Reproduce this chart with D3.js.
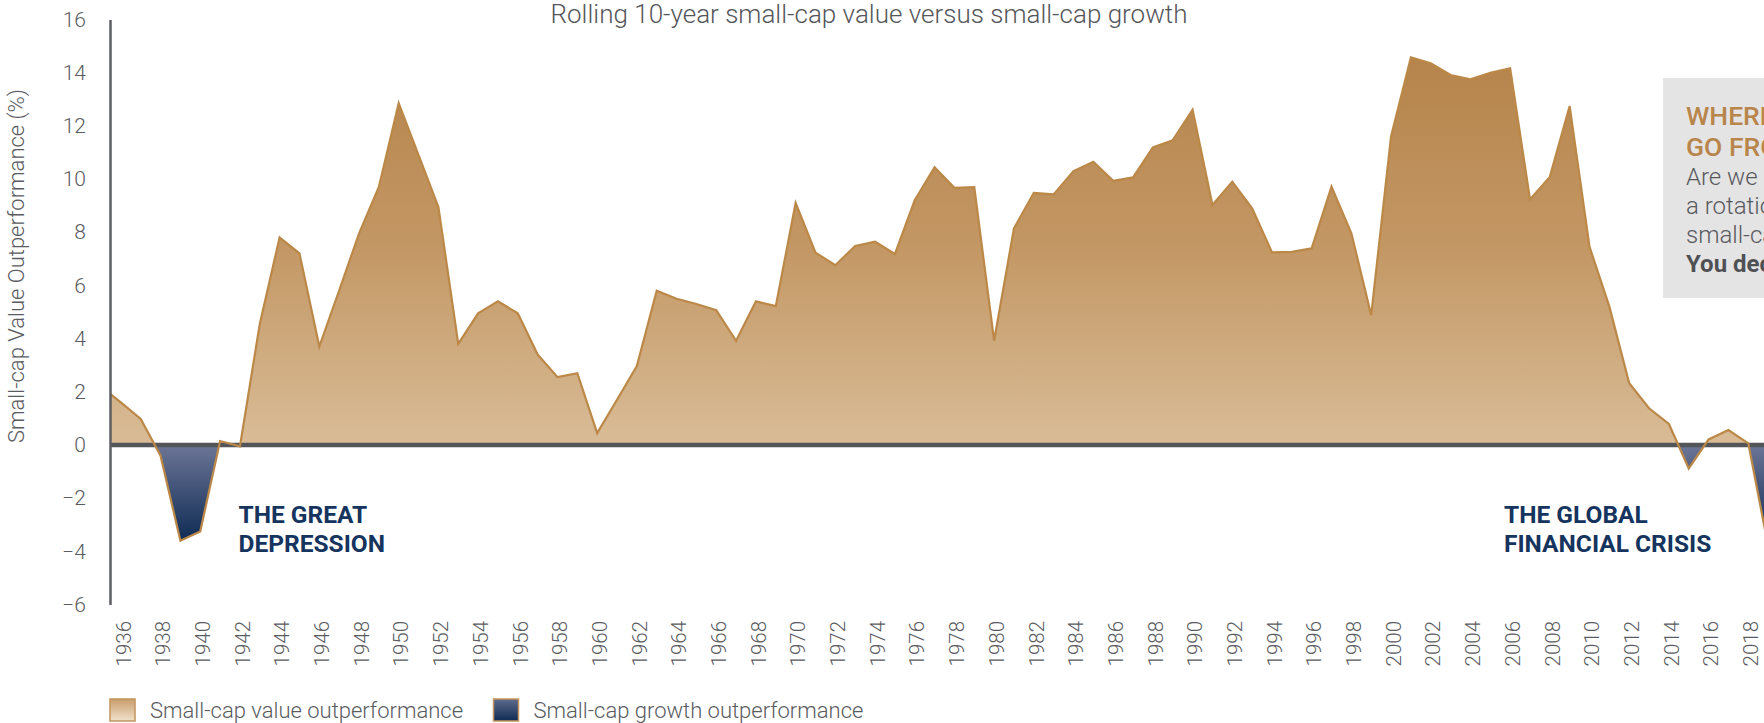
<!DOCTYPE html>
<html>
<head>
<meta charset="utf-8">
<script src="https://cdn.jsdelivr.net/npm/d3@7"></script>
<style>
  body { margin: 0; background: #fff; }
  svg { display: block; }
  text { font-family: Roboto, "Open Sans", sans-serif; }
</style>
</head>
<body>
<div id="chart"></div>
<script>

// Rolling 10-year small-cap value minus small-cap growth (%)
var years = [1935, 1936, 1937, 1938, 1939, 1940, 1941, 1942, 1943, 1944,
	1945, 1946, 1947, 1948, 1949, 1950, 1951, 1952, 1953, 1954,
	1955, 1956, 1957, 1958, 1959, 1960, 1961, 1962, 1963, 1964,
	1965, 1966, 1967, 1968, 1969, 1970, 1971, 1972, 1973, 1974,
	1975, 1976, 1977, 1978, 1979, 1980, 1981, 1982, 1983, 1984,
	1985, 1986, 1987, 1988, 1989, 1990, 1991, 1992, 1993, 1994,
	1995, 1996, 1997, 1998, 1999, 2000, 2001, 2002, 2003, 2004,
	2005, 2006, 2007, 2008, 2009, 2010, 2011, 2012, 2013, 2014,
	2015, 2016, 2017, 2018, 2019];

var outperformance = [2.2, 1.6, 0.98, -0.4, -3.6, -3.25, 0.15, -0.05, 4.55, 7.8,
	7.2, 3.7, 5.8, 7.95, 9.7, 12.85, 10.9, 8.95, 3.8, 4.95,
	5.4, 4.95, 3.4, 2.55, 2.7, 0.45, 1.7, 2.97, 5.8, 5.5,
	5.3, 5.07, 3.92, 5.4, 5.22, 9.1, 7.23, 6.76, 7.48, 7.64,
	7.18, 9.2, 10.44, 9.67, 9.69, 3.92, 8.14, 9.48, 9.42, 10.3,
	10.65, 9.93, 10.06, 11.19, 11.46, 12.6, 9.02, 9.9, 8.9, 7.24,
	7.26, 7.39, 9.71, 7.96, 4.88, 11.6, 14.57, 14.35, 13.91, 13.75,
	13.99, 14.16, 9.23, 10.08, 12.74, 7.45, 5.2, 2.32, 1.38, 0.79,
	-0.88, 0.21, 0.56, 0.06, -3.8];

var yTicks = [-6, -4, -2, 0, 2, 4, 6, 8, 10, 12, 14, 16];

var xLabels = [1936, 1938, 1940, 1942, 1944, 1946, 1948, 1950, 1952, 1954,
	1956, 1958, 1960, 1962, 1964, 1966, 1968, 1970, 1972, 1974,
	1976, 1978, 1980, 1982, 1984, 1986, 1988, 1990, 1992, 1994,
	1996, 1998, 2000, 2002, 2004, 2006, 2008, 2010, 2012, 2014,
	2016, 2018];

var legendLabels = ['Small-cap value outperformance', 'Small-cap growth outperformance'];

var title = 'Rolling 10-year small-cap value versus small-cap growth';
var yTitle = 'Small-cap Value Outperformance (%)';
var boxHead = ['WHERE DO WE', 'GO FROM HERE?'];
var boxBody = ['Are we due for', 'a rotation back to', 'small-cap value?'];
var boxBold = 'You decide.';


var width = 1764, height = 723;
var axisX = 110;

var svg = d3.select('#chart').append('svg')
	.attr('width', width)
	.attr('height', height);

var x = d3.scaleLinear().domain([1936, 2018]).range([120.85, 1748.3]);
var y = d3.scaleLinear().domain([-6, 16]).range([604.6, 19.4]);

var data = years.map((yr, i) => ({ year: yr, v: outperformance[i] }));


// Gradients and clips
var defs = svg.append('defs');

function addGradient(id, stops, attrs) {
	var g = defs.append('linearGradient').attr('id', id);
	Object.keys(attrs).forEach((k) => g.attr(k, attrs[k]));
	stops.forEach((s) => {
		g.append('stop').attr('offset', s[0]).attr('stop-color', s[1]);
	});
}

addGradient('gradValue', [[0, '#b5834a'], [0.5, '#c39764'], [1, '#d9bc97']],
	{ gradientUnits: 'userSpaceOnUse', x1: 0, x2: 0, y1: y(15), y2: y(0) });
addGradient('gradGrowth', [[0, '#6c7596'], [1, '#0f2b54']],
	{ gradientUnits: 'userSpaceOnUse', x1: 0, x2: 0, y1: y(0), y2: y(-3.6) });
addGradient('legValue', [[0, '#c89d6c'], [1, '#f1e2cc']],
	{ x1: 0, x2: 0, y1: 0, y2: 1 });
addGradient('legGrowth', [[0, '#5e6b8c'], [1, '#0f2b54']],
	{ x1: 0, x2: 0, y1: 0, y2: 1 });

defs.append('clipPath').attr('id', 'clipPos')
	.append('rect').attr('x', axisX).attr('y', 0)
	.attr('width', width - axisX).attr('height', y(0));

defs.append('clipPath').attr('id', 'clipNeg')
	.append('rect').attr('x', axisX).attr('y', y(0))
	.attr('width', width - axisX).attr('height', height - y(0));

defs.append('clipPath').attr('id', 'clipPlot')
	.append('rect').attr('x', axisX).attr('y', 0)
	.attr('width', width - axisX).attr('height', height);


// Areas
var area = d3.area()
	.x((d) => x(d.year))
	.y0(y(0))
	.y1((d) => y(d.v));

svg.append('path')
	.datum(data)
	.attr('d', area)
	.attr('fill', 'url(#gradValue)')
	.attr('clip-path', 'url(#clipPos)');

svg.append('path')
	.datum(data)
	.attr('d', area)
	.attr('fill', 'url(#gradGrowth)')
	.attr('clip-path', 'url(#clipNeg)');

// Zero line
svg.append('line')
	.attr('x1', axisX).attr('x2', width)
	.attr('y1', y(0)).attr('y2', y(0))
	.attr('stroke', '#54555a')
	.attr('stroke-width', 4.5);

// Outline
var line = d3.line()
	.x((d) => x(d.year))
	.y((d) => y(d.v));

svg.append('path')
	.datum(data)
	.attr('d', line)
	.attr('fill', 'none')
	.attr('stroke', '#bb8848')
	.attr('stroke-width', 2.2)
	.attr('stroke-linejoin', 'miter')
	.attr('clip-path', 'url(#clipPlot)');


// Y axis
var yAxis = svg.append('g')
	.attr('transform', 'translate(' + axisX + ',0)')
	.call(d3.axisLeft(y).tickValues(yTicks).tickSize(0).tickSizeOuter(0).tickPadding(24));

yAxis.select('.domain')
	.attr('stroke', '#5d5e62')
	.attr('stroke-width', 2.5);

yAxis.selectAll('text')
	.attr('fill', '#5a5b5f')
	.style('font-size', '21px')
	.style('font-weight', 300)
	.style('font-family', 'Roboto, sans-serif');

svg.append('text')
	.attr('transform', 'translate(24,266) rotate(-90)')
	.attr('text-anchor', 'middle')
	.attr('fill', '#5a5b5f')
	.style('font-size', '22px')
	.style('font-weight', 300)
	.text(yTitle);


// X axis labels
var xAxis = svg.append('g')
	.attr('transform', 'translate(0,605)')
	.call(d3.axisBottom(x).tickValues(xLabels).tickSize(0).tickFormat(d3.format('d')));

xAxis.select('.domain').remove();

xAxis.selectAll('text')
	.attr('transform', 'rotate(-90)')
	.attr('x', -16)
	.attr('y', 0)
	.attr('dy', '0.45em')
	.attr('text-anchor', 'end')
	.attr('fill', '#5a5b5f')
	.style('font-size', '20.5px')
	.style('font-weight', 300)
	.style('font-family', 'Roboto, sans-serif');


// Title
svg.append('text')
	.attr('x', 869).attr('y', 23)
	.attr('text-anchor', 'middle')
	.attr('fill', '#55565a')
	.style('font-size', '26px')
	.style('font-weight', 300)
	.text(title);


// Event annotations
var notes = [
	{ x: 238.5, lines: ['THE GREAT', 'DEPRESSION'] },
	{ x: 1504, lines: ['THE GLOBAL', 'FINANCIAL CRISIS'] }
];

notes.forEach((n) => {
	var t = svg.append('text')
		.attr('fill', '#15345e')
		.style('font-size', '24.5px')
		.style('font-weight', 700);
	n.lines.forEach((s, i) => {
		t.append('tspan').attr('x', n.x).attr('y', 523 + i * 29).text(s);
	});
});


// Side box (cut by the right edge, as in the source)
svg.append('rect')
	.attr('x', 1663).attr('y', 78)
	.attr('width', 200).attr('height', 220)
	.attr('fill', '#e5e4e5');

boxHead.forEach((s, i) => {
	svg.append('text')
		.attr('x', 1686).attr('y', 125 + i * 31)
		.attr('fill', '#b8854a')
		.style('font-size', '26.5px')
		.style('font-weight', 500)
		.text(s);
});

boxBody.forEach((s, i) => {
	svg.append('text')
		.attr('x', 1686).attr('y', 185 + i * 29)
		.attr('fill', '#58595d')
		.style('font-size', '24px')
		.style('font-weight', 300)
		.text(s);
});

svg.append('text')
	.attr('x', 1686).attr('y', 272)
	.attr('fill', '#4f5054')
	.style('font-size', '24px')
	.style('font-weight', 700)
	.text(boxBold);


// Legend
var legend = svg.append('g').selectAll('g')
	.data(legendLabels)
	.enter()
	.append('g')
	.attr('transform', (d, i) => 'translate(' + [110, 493.5][i] + ',699)');

legend.append('rect')
	.attr('width', 25).attr('height', 22)
	.attr('fill', (d, i) => i === 0 ? 'url(#legValue)' : 'url(#legGrowth)')
	.attr('stroke', '#c3945c')
	.attr('stroke-width', 1.5);

legend.append('text')
	.attr('x', 40).attr('y', 19)
	.attr('fill', '#5a5b5f')
	.style('font-size', '22px')
	.style('font-weight', 300)
	.text((d) => d);

</script>
</body>
</html>
